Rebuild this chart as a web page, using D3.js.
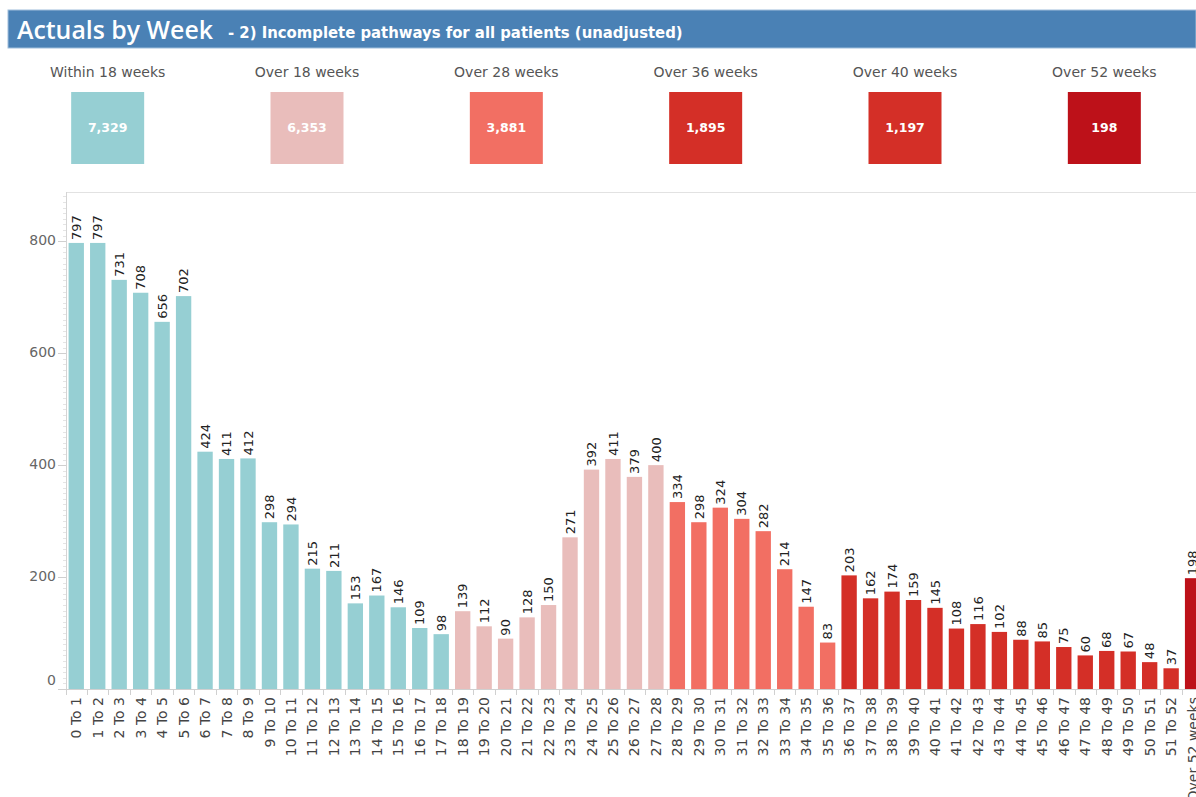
<!DOCTYPE html>
<html>
<head>
<meta charset="utf-8">
<script src="https://cdn.jsdelivr.net/npm/d3@7"></script>
<style>
  html, body { margin: 0; padding: 0; background: #fff; }
  svg { display: block; }
</style>
</head>
<body>
<svg id="chart" width="1196" height="797"></svg>
<script>
// Waiting-time bands (weeks) and the number of incomplete pathways in each
const weekBands = [
  "0 To 1", "1 To 2", "2 To 3", "3 To 4", "4 To 5", "5 To 6", "6 To 7", "7 To 8", "8 To 9",
  "9 To 10", "10 To 11", "11 To 12", "12 To 13", "13 To 14", "14 To 15", "15 To 16", "16 To 17",
  "17 To 18", "18 To 19", "19 To 20", "20 To 21", "21 To 22", "22 To 23", "23 To 24", "24 To 25",
  "25 To 26", "26 To 27", "27 To 28", "28 To 29", "29 To 30", "30 To 31", "31 To 32", "32 To 33",
  "33 To 34", "34 To 35", "35 To 36", "36 To 37", "37 To 38", "38 To 39", "39 To 40", "40 To 41",
  "41 To 42", "42 To 43", "43 To 44", "44 To 45", "45 To 46", "46 To 47", "47 To 48", "48 To 49",
  "49 To 50", "50 To 51", "51 To 52", "Over 52 weeks"
];
const patientCounts = [
  797, 797, 731, 708, 656, 702, 424, 411, 412, 298, 294, 215, 211, 153, 167, 146, 109, 98,
  139, 112, 90, 128, 150, 271, 392, 411, 379, 400,
  334, 298, 324, 304, 282, 214, 147, 83,
  203, 162, 174, 159, 145, 108, 116, 102, 88, 85, 75, 60, 68, 67, 48, 37,
  198
];

// Colour bands: a bar takes the colour of the first band whose upper bound exceeds its index
const bandUpperBounds = [18, 28, 36, 52, 53];
const bandColours = ["#96cfd3", "#e9bdbb", "#f26f63", "#d42f27", "#bd1119"];

// Summary tiles
const kpiLabels = ["Within 18 weeks", "Over 18 weeks", "Over 28 weeks", "Over 36 weeks", "Over 40 weeks", "Over 52 weeks"];
const kpiValues = [7329, 6353, 3881, 1895, 1197, 198];
const kpiColours = ["#96cfd3", "#e9bdbb", "#f26f63", "#d42f27", "#d42f27", "#bd1119"];

const yTicks = [0, 200, 400, 600, 800];

const W = 1196, H = 797;
const svg = d3.select("#chart");
svg.append("rect").attr("width", W).attr("height", H).attr("fill", "#fff");

// Fit a text node to a target width by scaling its font size
function fitWidth(sel, target) {
  const node = sel.node();
  const len = node.getComputedTextLength();
  const fs = parseFloat(sel.attr("font-size"));
  if (len > 0) sel.attr("font-size", (fs * target / len).toFixed(2));
}

// ---- Header bar ----
const header = svg.append("g");
header.append("rect")
  .attr("x", 8).attr("y", 10).attr("width", W - 8).attr("height", 38)
  .attr("fill", "#4a81b5").attr("stroke", "#9fbedb").attr("stroke-width", 1);
const title = header.append("text")
  .attr("x", 17).attr("y", 39)
  .attr("font-family", "'Open Sans', sans-serif").attr("font-weight", 600)
  .attr("font-size", 24).attr("fill", "#fff")
  .text("Actuals by Week");
fitWidth(title, 196);
const subtitle = header.append("text")
  .attr("x", 228).attr("y", 38)
  .attr("font-family", "'DejaVu Sans Condensed', 'DejaVu Sans', sans-serif").attr("font-weight", "bold")
  .attr("font-stretch", "condensed")
  .attr("font-size", 15).attr("fill", "#fff")
  .text("- 2) Incomplete pathways for all patients (unadjusted)");
fitWidth(subtitle, 455);

// ---- KPI tiles ----
const kx = d3.scaleBand().domain(kpiLabels).range([8, 1204]);
const tiles = svg.append("g").selectAll("g").data(kpiLabels).join("g")
  .attr("transform", d => `translate(${kx(d) + kx.bandwidth() / 2},0)`);
tiles.append("text")
  .attr("y", 77).attr("text-anchor", "middle")
  .attr("font-family", "'DejaVu Sans', sans-serif").attr("font-size", 14)
  .attr("fill", "#555")
  .text(d => d);
tiles.append("rect")
  .attr("x", -36.5).attr("y", 92).attr("width", 73).attr("height", 72)
  .attr("fill", (d, i) => kpiColours[i]);
tiles.append("text")
  .attr("y", 128).attr("dy", "0.35em").attr("text-anchor", "middle")
  .attr("font-family", "'DejaVu Sans', sans-serif").attr("font-weight", "bold")
  .attr("font-size", 12.5).attr("fill", "#fff")
  .text((d, i) => d3.format(",")(kpiValues[i]));

// ---- Bar chart ----
const plotLeft = 66, plotTop = 192, plotBase = 689;
const x = d3.scaleBand().domain(weekBands).range([plotLeft, plotLeft + 53 * 21.45])
  .paddingInner(0.285).paddingOuter(0.12);
const y = d3.scaleLinear().domain([0, 888]).range([plotBase, plotTop]);
const colourOf = i => bandColours[bandUpperBounds.findIndex(b => i < b)];

const plot = svg.append("g");

// frame: top rule
plot.append("line").attr("x1", plotLeft).attr("x2", W).attr("y1", plotTop + 0.5).attr("y2", plotTop + 0.5)
  .attr("stroke", "#e2e2e2");

// minor y ticks
const minor = d3.range(0, 888, 10);
plot.append("g").selectAll("line").data(minor).join("line")
  .attr("x1", plotLeft - 3).attr("x2", plotLeft)
  .attr("y1", d => Math.round(y(d)) + 0.5).attr("y2", d => Math.round(y(d)) + 0.5)
  .attr("stroke", "#e4e4e4");

// major y ticks and labels
const yAxis = plot.append("g");
yAxis.selectAll("line").data(yTicks).join("line")
  .attr("x1", plotLeft - 8).attr("x2", plotLeft)
  .attr("y1", d => Math.round(y(d)) + 0.5).attr("y2", d => Math.round(y(d)) + 0.5)
  .attr("stroke", "#cfcfcf");
yAxis.selectAll("text").data(yTicks).join("text")
  .attr("x", 56).attr("y", d => y(d) - 1)
  .attr("dy", d => d === 0 ? "-0.25em" : "0.35em")
  .attr("text-anchor", "end")
  .attr("font-family", "'DejaVu Sans', sans-serif").attr("font-size", 14)
  .attr("fill", "#666")
  .text(d => d);

plot.append("line").attr("x1", plotLeft + 0.5).attr("x2", plotLeft + 0.5).attr("y1", plotTop).attr("y2", plotBase + 1)
  .attr("stroke", "#d4d4d4");

// bars
plot.append("g").selectAll("rect").data(patientCounts).join("rect")
  .attr("x", (d, i) => x(weekBands[i]))
  .attr("width", x.bandwidth())
  .attr("y", d => y(d))
  .attr("height", d => plotBase - y(d))
  .attr("fill", (d, i) => colourOf(i));

// baseline and category ticks
plot.append("line").attr("x1", plotLeft - 8).attr("x2", W).attr("y1", plotBase + 0.5).attr("y2", plotBase + 0.5)
  .attr("stroke", "#d0d0d0");
const step = x.step();
const firstEdge = x(weekBands[0]) - (step - x.bandwidth()) / 2;
plot.append("g").selectAll("line").data(d3.range(54)).join("line")
  .attr("x1", i => Math.round(firstEdge + i * step) + 0.5)
  .attr("x2", i => Math.round(firstEdge + i * step) + 0.5)
  .attr("y1", plotBase).attr("y2", plotBase + 6)
  .attr("stroke", "#d0d0d0");

// value labels above bars
plot.append("g").selectAll("text").data(patientCounts).join("text")
  .attr("transform", (d, i) => `translate(${x(weekBands[i]) + x.bandwidth() / 2},${y(d) - 3}) rotate(-90)`)
  .attr("dy", "0.36em")
  .attr("font-family", "'DejaVu Sans', sans-serif").attr("font-size", 13)
  .attr("fill", "#222")
  .text(d => d);

// category labels below the axis
plot.append("g").selectAll("text").data(weekBands).join("text")
  .attr("transform", d => `translate(${x(d) + x.bandwidth() / 2},${plotBase + 8}) rotate(-90)`)
  .attr("dy", "0.36em")
  .attr("text-anchor", "end")
  .attr("font-family", "'DejaVu Sans', sans-serif").attr("font-size", 14)
  .attr("fill", "#444")
  .text(d => d);
</script>
</body>
</html>
